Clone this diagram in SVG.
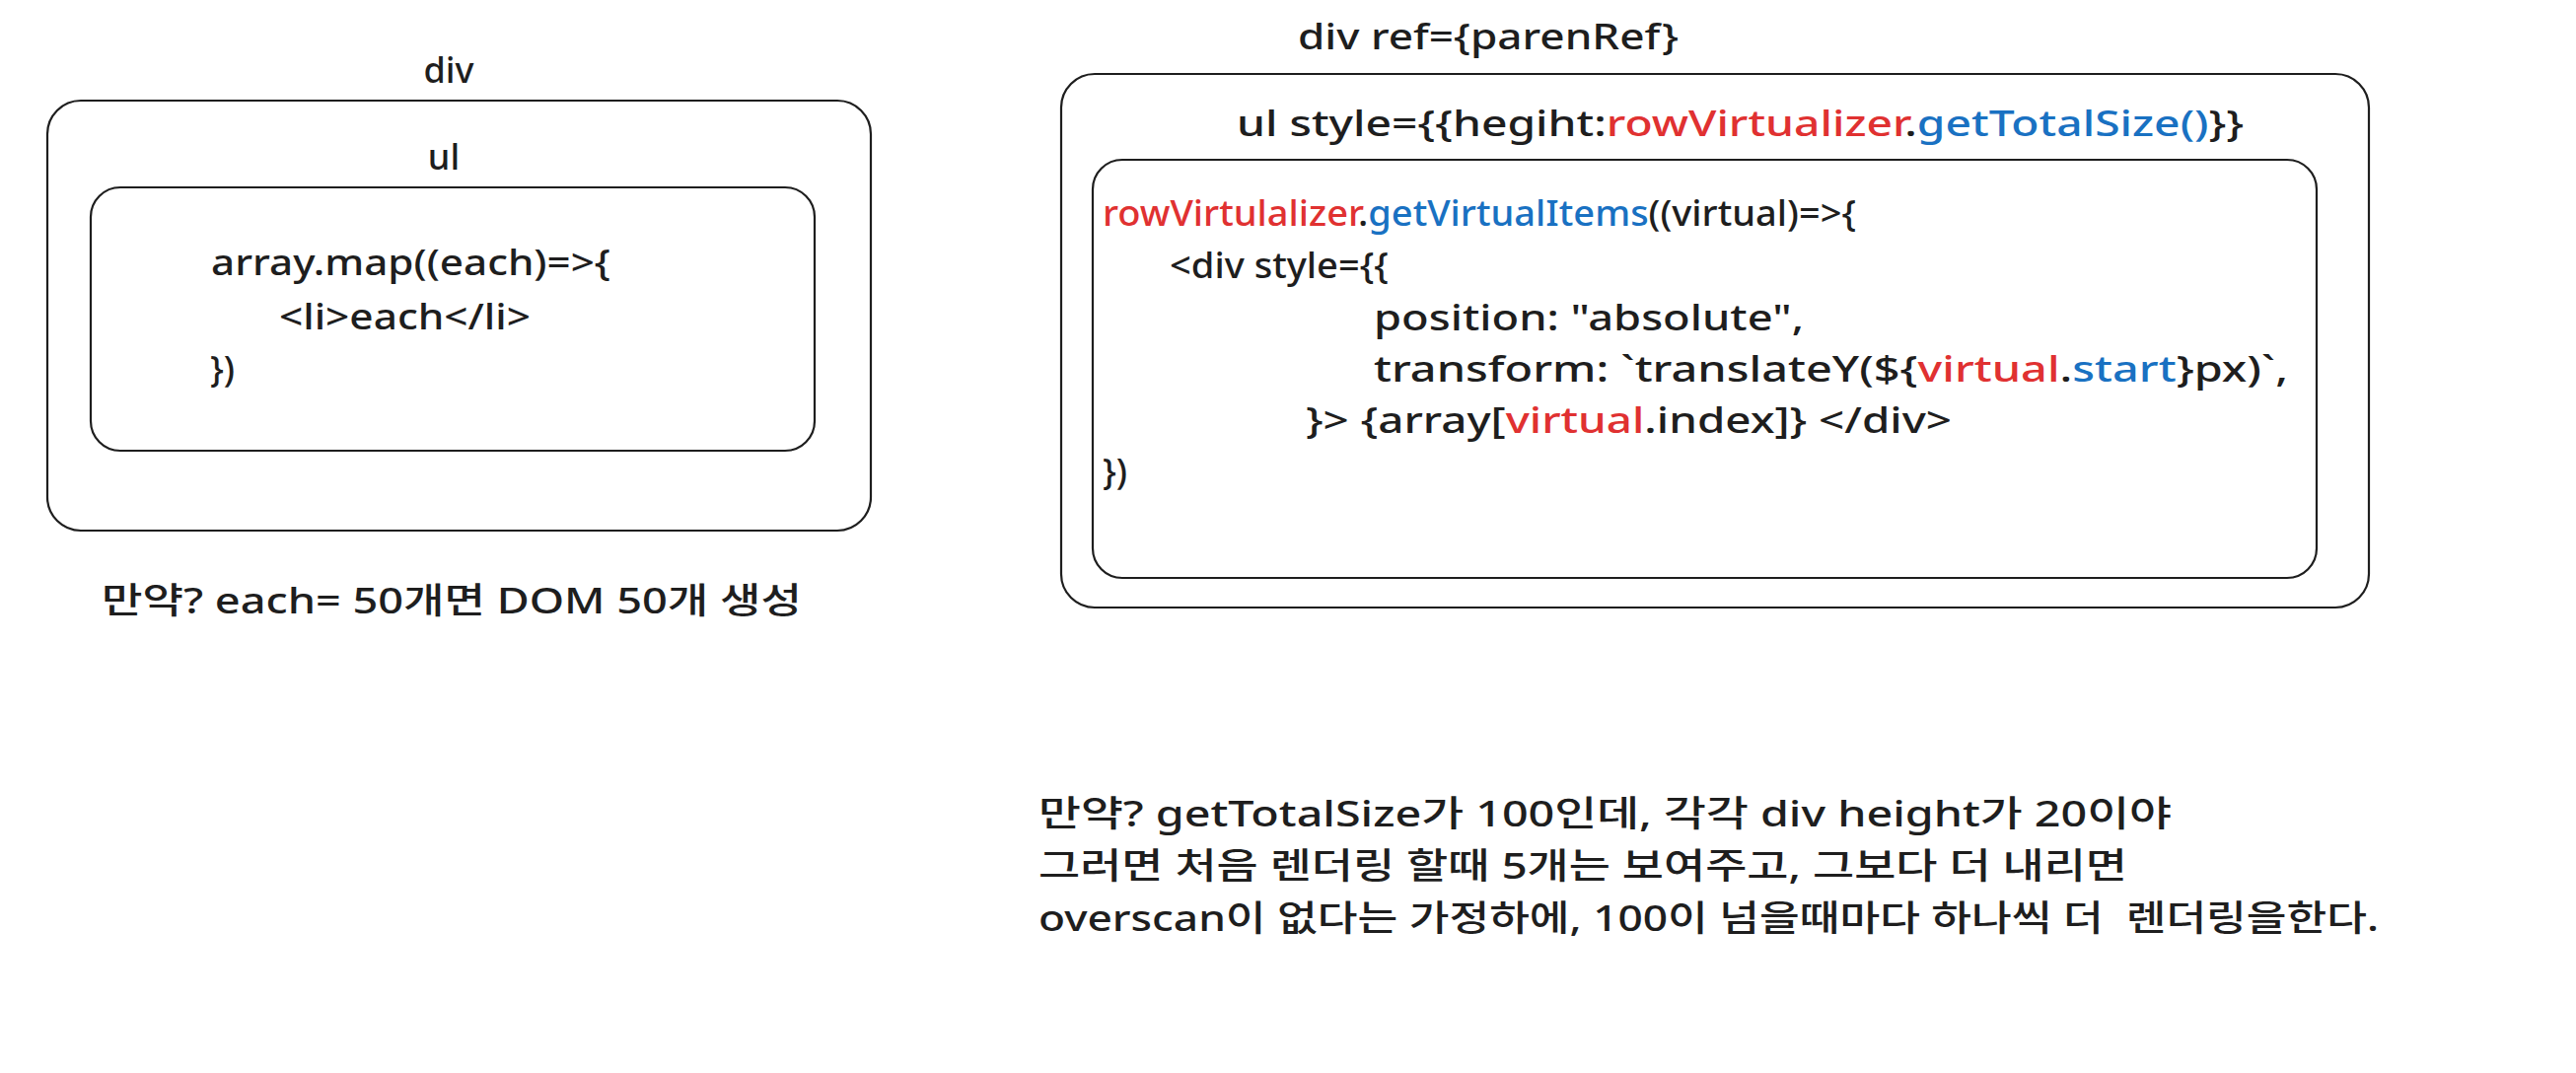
<svg xmlns="http://www.w3.org/2000/svg" width="2612" height="1088" viewBox="0 0 2612 1088">
<style>
.box{fill:none;stroke:#1e1e1e;stroke-width:2.2}
.t{font-family:"Noto Sans","Noto Sans CJK KR",sans-serif;font-size:36px;font-weight:500;fill:#1e1e1e}
.r{fill:#e03131}
.b{fill:#1971c2}
</style>
<rect width="2612" height="1088" fill="#ffffff"/>
<g id="left-div">
<text class="t" x="455" y="84" text-anchor="middle">div</text>
<rect class="box" x="48" y="102" width="835" height="436" rx="34"/>
</g>
<g id="left-ul">
<text class="t" x="450" y="172" text-anchor="middle">ul</text>
<rect class="box" x="92" y="190" width="734" height="267" rx="30"/>
<text class="t" x="214" y="279" textLength="405" lengthAdjust="spacingAndGlyphs">array.map((each)=&gt;{</text>
<text class="t" x="283" y="334" textLength="255" lengthAdjust="spacingAndGlyphs">&lt;li&gt;each&lt;/li&gt;</text>
<text class="t" x="213" y="387">})</text>
</g>
<g id="left-note">
<text class="t" x="103" y="622" textLength="710" lengthAdjust="spacingAndGlyphs">만약? each= 50개면 DOM 50개 생성</text>
</g>
<g id="right-div">
<text class="t" x="1316" y="50" textLength="386" lengthAdjust="spacingAndGlyphs">div ref={parenRef}</text>
<rect class="box" x="1076" y="75" width="1326" height="541" rx="34"/>
</g>
<g id="right-ul">
<text class="t" x="1254" y="138" textLength="1021" lengthAdjust="spacingAndGlyphs">ul style={{hegiht:<tspan class="r">rowVirtualizer</tspan>.<tspan class="b">getTotalSize()</tspan>}}</text>
<rect class="box" x="1108" y="162" width="1241" height="424" rx="30"/>
<text class="t" x="1118" y="229" textLength="764" lengthAdjust="spacingAndGlyphs"><tspan class="r">rowVirtulalizer</tspan>.<tspan class="b">getVirtualItems</tspan>((virtual)=&gt;{</text>
<text class="t" x="1186" y="282" textLength="222" lengthAdjust="spacingAndGlyphs">&lt;div style={{</text>
<text class="t" x="1393" y="335" textLength="436" lengthAdjust="spacingAndGlyphs">position: "absolute",</text>
<text class="t" x="1393" y="387" textLength="927" lengthAdjust="spacingAndGlyphs">transform: `translateY(${<tspan class="r">virtual</tspan>.<tspan class="b">start</tspan>}px)`,</text>
<text class="t" x="1324" y="439" textLength="655" lengthAdjust="spacingAndGlyphs">}&gt; {array[<tspan class="r">virtual</tspan>.index]} &lt;/div&gt;</text>
<text class="t" x="1118" y="491">})</text>
</g>
<g id="right-note">
<text class="t" x="1053" y="838" textLength="1149" lengthAdjust="spacingAndGlyphs">만약? getTotalSize가 100인데, 각각 div height가 20이야</text>
<text class="t" x="1053" y="891" textLength="1104" lengthAdjust="spacingAndGlyphs">그러면 처음 렌더링 할때 5개는 보여주고, 그보다 더 내리면</text>
<text class="t" x="1053" y="944" textLength="1359" lengthAdjust="spacingAndGlyphs" xml:space="preserve">overscan이 없다는 가정하에, 100이 넘을때마다 하나씩 더  렌더링을한다.</text>
</g>
<g id="connectors"></g>
</svg>
